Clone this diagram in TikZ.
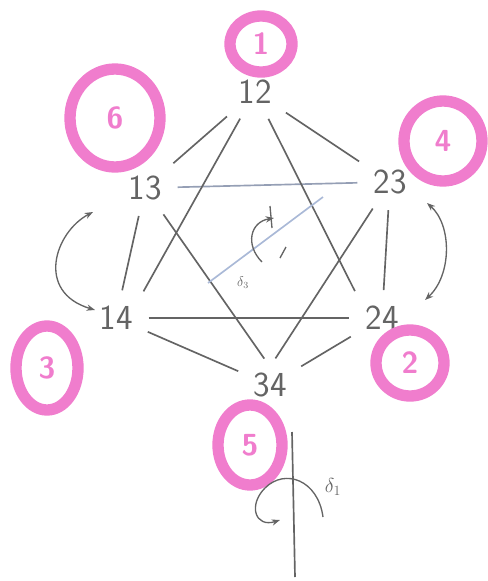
\documentclass[tikz,border=0pt]{standalone}
\usepackage{amsmath,amssymb}
\usetikzlibrary{positioning,arrows.meta,shapes.geometric}
\usepackage{xcolor}
\definecolor{hlpink}{RGB}{240,125,205}
\definecolor{pencil}{RGB}{100,100,100}
\definecolor{axisblue}{RGB}{170,185,215}

\begin{document}
\begin{tikzpicture}[x=0.03cm,y=-0.03cm,>={Stealth[length=2.5mm]},
  vert/.style={font=\fontsize{30}{32}\selectfont\sffamily,text=pencil,inner sep=5pt},
  ring/.style={ellipse,draw=hlpink,line width=3.4mm,text=hlpink,inner sep=0pt,
    font=\fontsize{26}{28}\selectfont\bfseries\sffamily},
  edge/.style={pencil,line width=0.5mm,shorten <=3mm,shorten >=3mm},
  curl/.style={pencil,line width=0.4mm,<->}]
\useasboundingbox (0,0) rectangle (488,581);
% vertices of the hexagon
\node[vert] (v12) at (255,92) {12};
\node[vert] (v13) at (145,188) {13};
\node[vert] (v23) at (390,182) {23};
\node[vert] (v14) at (116,318) {14};
\node[vert] (v24) at (382,318) {24};
\node[vert] (v34) at (270,385) {34};
% pink rings
\node[ring,minimum width=1.86cm,minimum height=1.68cm] (c1) at (261,44) {1};
\node[ring,minimum width=2.7cm,minimum height=2.94cm] (c6) at (115,118) {6};
\node[ring,minimum width=2.34cm,minimum height=2.4cm] (c4) at (443,141) {4};
\node[ring,minimum width=1.86cm,minimum height=2.52cm] (c3) at (47,368) {3};
\node[ring,minimum width=2.04cm,minimum height=1.98cm] (c2) at (410,363) {2};
\node[ring,minimum width=1.92cm,minimum height=2.4cm] (c5) at (250,445) {5};
% hexagon
\draw[edge] (v12) -- (v13);
\draw[edge] (v12) -- (v23);
\draw[edge] (v13) -- (v14);
\draw[edge] (v23) -- (v24);
\draw[edge] (v14) -- (v34);
\draw[edge] (v24) -- (v34);
% the two triangles
\draw[edge,axisblue!70!pencil] (v13) -- (v23);
\draw[edge] (v13) -- (v34.north);
\draw[edge] (v23) -- (v34.north);
\draw[edge] (v12) -- (v14.north east);
\draw[edge] (v12) -- (v24.north west);
\draw[edge] (v14) -- (v24);
% middle axis
\coordinate (m0) at (208,283);
\coordinate (m1) at (323,197);
\draw[axisblue,line width=0.5mm] (m0) -- (m1);
\node[text=pencil,font=\large] (d3) at (243,283) {$\delta_3$};
\draw[pencil,line width=0.4mm,->] (262,262) .. controls (245,245) and (250,222) .. (274,218);
\draw[pencil,line width=0.4mm] (270,206) -- (272,228);
\draw[pencil,line width=0.4mm] (280,258) -- (286,247);
% side swaps
\draw[curl] (93,212) .. controls (55,232) and (35,292) .. (95,310);
\draw[curl] (427,203) .. controls (452,225) and (452,275) .. (425,300);
% bottom axis
\coordinate (b0) at (292,432);
\coordinate (b1) at (295,577);
\draw[pencil,line width=0.5mm] (b0) -- (b1);
\draw[pencil,line width=0.4mm,->] (323,517) .. controls (318,480) and (285,468) .. (265,488)
  .. controls (248,505) and (255,528) .. (280,520);
\node[text=pencil,font=\LARGE] (d1) at (333,487) {$\delta_1$};
\end{tikzpicture}
\end{document}
